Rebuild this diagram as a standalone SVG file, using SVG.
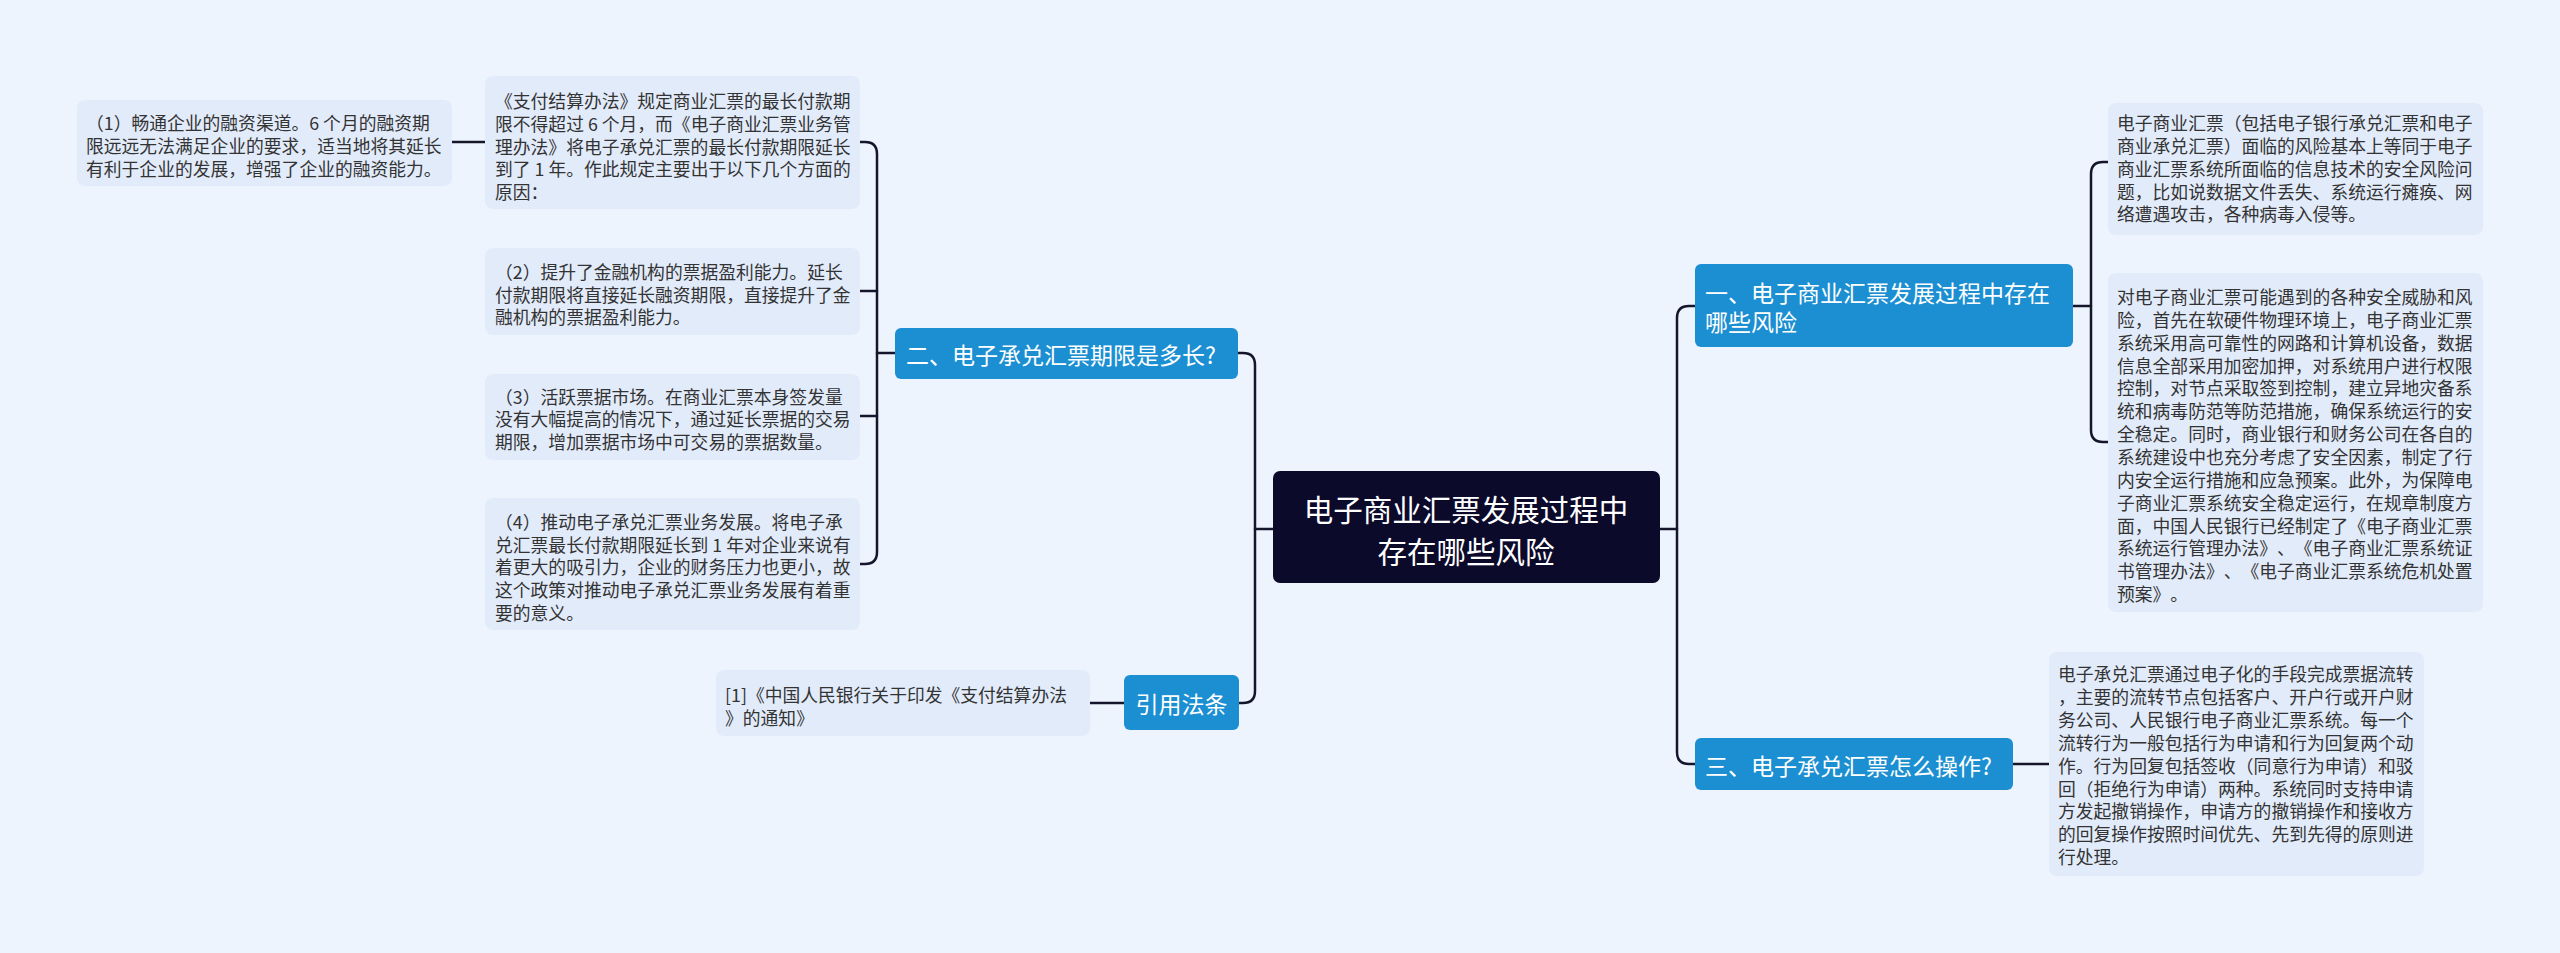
<svg xmlns="http://www.w3.org/2000/svg" width="2560" height="953" viewBox="0 0 2560 953">
<style>
text{text-spacing-trim:space-all;font-kerning:none}
.bg{fill:#eef4fd}
.leaf rect{fill:#e2ebfa}
.leaf text{font-family:"Noto Sans CJK SC","Noto Sans",sans-serif;font-size:17.8px;fill:#333333;dominant-baseline:central}
.branch rect{fill:#1c8fd2}
.branch text{font-family:"Noto Sans CJK SC","Noto Sans",sans-serif;font-size:23px;fill:#ffffff;dominant-baseline:central}
.root rect{fill:#0b0a2b}
.root text{font-family:"Noto Sans CJK SC","Noto Sans",sans-serif;font-size:29.5px;fill:#ffffff;dominant-baseline:central;text-anchor:middle}
#connectors path{fill:none;stroke:#15152b;stroke-width:2.5;stroke-linecap:round}
</style>
<rect class="bg" x="0" y="0" width="2560" height="953"/>
<g id="connectors">
<path d="M1273,529 H1255"/>
<path d="M1238,353 H1243 Q1255,353 1255,365 V691 Q1255,703 1243,703 H1239"/>
<path d="M895,353 H877"/>
<path d="M860,142 H865 Q877,142 877,154 V552 Q877,564 865,564 H860"/>
<path d="M860,291 H877"/>
<path d="M860,416 H877"/>
<path d="M485,142 H452"/>
<path d="M1124,703 H1090"/>
<path d="M1660,529 H1677"/>
<path d="M1695,306 H1689 Q1677,306 1677,318 V752 Q1677,764 1689,764 H1695"/>
<path d="M2073,306 H2091"/>
<path d="M2108,162 H2103 Q2091,162 2091,174 V430 Q2091,442 2103,442 H2108"/>
<path d="M2013,764 H2049"/>
</g>
<g id="root" class="root">
<rect x="1273" y="471" width="387" height="112" rx="7"/>
<text><tspan x="1466" y="508">电子商业汇票发展过程中</tspan><tspan x="1466" y="550">存在哪些风险</tspan></text>
</g>
<g id="b1" class="branch">
<rect x="1695" y="264" width="378" height="83" rx="6"/>
<text><tspan x="1705" y="292">一、电子商业汇票发展过程中存在</tspan><tspan x="1705" y="321">哪些风险</tspan></text>
</g>
<g id="b2" class="branch">
<rect x="895" y="328" width="343" height="51" rx="6"/>
<text x="906" y="354">二、电子承兑汇票期限是多长?</text>
</g>
<g id="b3" class="branch">
<rect x="1695" y="738" width="318" height="52" rx="6"/>
<text x="1705" y="765">三、电子承兑汇票怎么操作?</text>
</g>
<g id="b4" class="branch">
<rect x="1124" y="675" width="115" height="55" rx="6"/>
<text x="1181.5" y="703" text-anchor="middle">引用法条</text>
</g>
<g id="l1" class="leaf">
<rect x="77" y="100" width="375" height="86" rx="8"/>
<text><tspan x="86" y="121.5">（1）畅通企业的融资渠道。6 个月的融资期</tspan><tspan x="86" y="144.5">限远远无法满足企业的要求，适当地将其延长</tspan><tspan x="86" y="167.5">有利于企业的发展，增强了企业的融资能力。</tspan></text>
</g>
<g id="l2" class="leaf">
<rect x="485" y="76" width="375" height="133" rx="8"/>
<text><tspan x="495" y="99.5">《支付结算办法》规定商业汇票的最长付款期</tspan><tspan x="495" y="122.5">限不得超过 6 个月，而《电子商业汇票业务管</tspan><tspan x="495" y="145.5">理办法》将电子承兑汇票的最长付款期限延长</tspan><tspan x="495" y="168">到了 1 年。作此规定主要出于以下几个方面的</tspan><tspan x="495" y="190.5">原因：</tspan></text>
</g>
<g id="l3" class="leaf">
<rect x="485" y="248" width="375" height="87" rx="8"/>
<text><tspan x="495" y="270.5">（2）提升了金融机构的票据盈利能力。延长</tspan><tspan x="495" y="293.5">付款期限将直接延长融资期限，直接提升了金</tspan><tspan x="495" y="316">融机构的票据盈利能力。</tspan></text>
</g>
<g id="l4" class="leaf">
<rect x="485" y="374" width="375" height="86" rx="8"/>
<text><tspan x="495" y="395.5">（3）活跃票据市场。在商业汇票本身签发量</tspan><tspan x="495" y="418">没有大幅提高的情况下，通过延长票据的交易</tspan><tspan x="495" y="441">期限，增加票据市场中可交易的票据数量。</tspan></text>
</g>
<g id="l5" class="leaf">
<rect x="485" y="498" width="375" height="132" rx="8"/>
<text><tspan x="495" y="520.5">（4）推动电子承兑汇票业务发展。将电子承</tspan><tspan x="495" y="543.5">兑汇票最长付款期限延长到 1 年对企业来说有</tspan><tspan x="495" y="566">着更大的吸引力，企业的财务压力也更小，故</tspan><tspan x="495" y="589">这个政策对推动电子承兑汇票业务发展有着重</tspan><tspan x="495" y="611.5">要的意义。</tspan></text>
</g>
<g id="l6" class="leaf">
<rect x="716" y="670" width="374" height="66" rx="8"/>
<text><tspan x="725" y="694">[1]《中国人民银行关于印发《支付结算办法</tspan><tspan x="725" y="717">》的通知》</tspan></text>
</g>
<g id="r1" class="leaf">
<rect x="2108" y="103" width="375" height="132" rx="8"/>
<text><tspan x="2117" y="122">电子商业汇票（包括电子银行承兑汇票和电子</tspan><tspan x="2117" y="145">商业承兑汇票）面临的风险基本上等同于电子</tspan><tspan x="2117" y="167.5">商业汇票系统所面临的信息技术的安全风险问</tspan><tspan x="2117" y="190.5">题，比如说数据文件丢失、系统运行瘫痪、网</tspan><tspan x="2117" y="213">络遭遇攻击，各种病毒入侵等。</tspan></text>
</g>
<g id="r2" class="leaf">
<rect x="2108" y="273" width="375" height="339" rx="8"/>
<text><tspan x="2117" y="296">对电子商业汇票可能遇到的各种安全威胁和风</tspan><tspan x="2117" y="318.85">险，首先在软硬件物理环境上，电子商业汇票</tspan><tspan x="2117" y="341.7">系统采用高可靠性的网路和计算机设备，数据</tspan><tspan x="2117" y="364.55">信息全部采用加密加押，对系统用户进行权限</tspan><tspan x="2117" y="387.4">控制，对节点采取签到控制，建立异地灾备系</tspan><tspan x="2117" y="410.25">统和病毒防范等防范措施，确保系统运行的安</tspan><tspan x="2117" y="433.1">全稳定。同时，商业银行和财务公司在各自的</tspan><tspan x="2117" y="455.95">系统建设中也充分考虑了安全因素，制定了行</tspan><tspan x="2117" y="478.8">内安全运行措施和应急预案。此外，为保障电</tspan><tspan x="2117" y="501.65">子商业汇票系统安全稳定运行，在规章制度方</tspan><tspan x="2117" y="524.5">面，中国人民银行已经制定了《电子商业汇票</tspan><tspan x="2117" y="547.35">系统运行管理办法》、《电子商业汇票系统证</tspan><tspan x="2117" y="570.2">书管理办法》、《电子商业汇票系统危机处置</tspan><tspan x="2117" y="593.05">预案》。</tspan></text>
</g>
<g id="r3" class="leaf">
<rect x="2049" y="652" width="375" height="224" rx="8"/>
<text><tspan x="2058" y="673">电子承兑汇票通过电子化的手段完成票据流转</tspan><tspan x="2058" y="695.9">，主要的流转节点包括客户、开户行或开户财</tspan><tspan x="2058" y="718.8">务公司、人民银行电子商业汇票系统。每一个</tspan><tspan x="2058" y="741.7">流转行为一般包括行为申请和行为回复两个动</tspan><tspan x="2058" y="764.6">作。行为回复包括签收（同意行为申请）和驳</tspan><tspan x="2058" y="787.5">回（拒绝行为申请）两种。系统同时支持申请</tspan><tspan x="2058" y="810.4">方发起撤销操作，申请方的撤销操作和接收方</tspan><tspan x="2058" y="833.3">的回复操作按照时间优先、先到先得的原则进</tspan><tspan x="2058" y="856.2">行处理。</tspan></text>
</g>
</svg>
